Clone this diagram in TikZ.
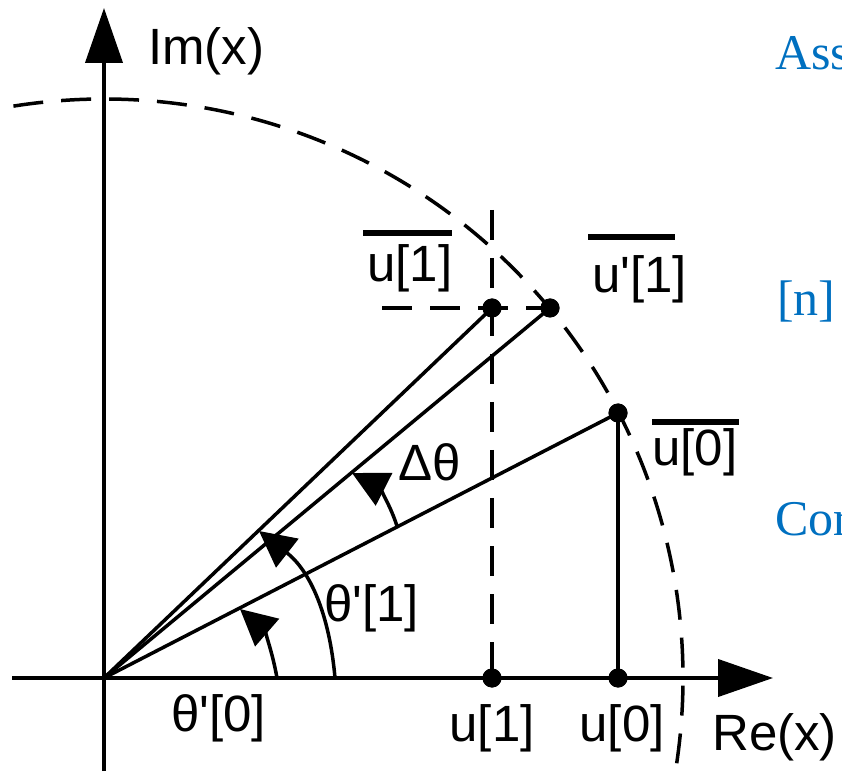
\documentclass[tikz,border=0pt]{standalone}
\usepackage{fontspec}
\setmainfont{Liberation Sans}[Ligatures=TeXOff]
\newfontfamily\bluefont{Liberation Serif}
\usetikzlibrary{arrows.meta}
\definecolor{officeblue}{RGB}{0,112,192}
\begin{document}
\begin{tikzpicture}[x=1pt,y=1pt,
  axis/.style={line width=4pt,-{Triangle[length=55pt,width=37pt]}},
  vec/.style={line width=3.5pt},
  dline/.style={line width=3.5pt,dash pattern=on 30pt off 18pt},
  angarc/.style={line width=3.5pt,-{Triangle[length=36pt,width=36pt]}},
  dot/.style={circle,fill=black,inner sep=0pt,minimum size=19pt},
  lbl/.style={inner sep=0pt,font=\fontsize{51}{60}\selectfont},
  bluelbl/.style={inner sep=0pt,anchor=base west,text=officeblue,font=\bluefont\fontsize{50}{60}\selectfont},
  bar/.style={line width=6pt}]
\useasboundingbox (0,0) rectangle (842,771);
\clip (0,0) rectangle (842,771);
% coordinates
\coordinate (O) at (104,93);
\coordinate (xs) at (12,93);
\coordinate (xe) at (773,93);
\coordinate (ys) at (104,0);
\coordinate (ye) at (104,763);
\coordinate (vtop) at (492,561);
\coordinate (hleft) at (382,463);
% dashed circle
\draw[dline] (O) ++(99:579) arc[start angle=99, end angle=-12, radius=579];
% axes
\draw[axis] (xs) -- (xe);
\draw[axis] (ys) -- (ye);
% points
\node[dot] (p1) at (492,463) {};
\node[dot] (p1p) at (550,463) {};
\node[dot] (p0) at (618,358) {};
\node[dot] (u1) at (492,93) {};
\node[dot] (u0) at (618,93) {};
% dashed helpers
\draw[dline] (vtop) -- (u1.center);
\draw[dline] (hleft) -- (p1p.center);
% vectors
\draw[vec] (O) -- (p1.center);
\draw[vec] (O) -- (p1p.center);
\draw[vec] (O) -- (p0.center);
\draw[vec] (p0.center) -- (u0.center);
% angle arcs
\coordinate (a0s) at (277,93);
\coordinate (a0e) at (240,162);
\coordinate (a1s) at (335,93);
\coordinate (a1e) at (259,240);
\coordinate (ads) at (397,245);
\coordinate (ade) at (352,298);
\draw[angarc] (a0s) to[out=100,in=-41] (a0e);
\draw[angarc] (a1s) to[out=95,in=-38] (a1e);
\draw[angarc] (ads) to[out=108,in=-27] (ade);
% redraw dots on top
\node[dot] at (p1) {};
\node[dot] at (p1p) {};
\node[dot] at (p0) {};
\node[dot] at (u1) {};
\node[dot] at (u0) {};
% labels
\node[lbl,anchor=base west] (imx) at (148,706) {Im(x)};
\node[lbl,anchor=base west] (rex) at (712,21) {Re(x)};
\node[lbl,anchor=base] (lu1) at (492,30) {u[1]};
\node[lbl,anchor=base] (lu0) at (622,30) {u[0]};
\node[lbl,anchor=base] (th0) at (218.5,40) {θ'[0]};
\node[lbl,anchor=base] (th1) at (371.5,150) {θ'[1]};
\node[lbl,anchor=base] (dth) at (430,290) {Δθ};
\node[lbl,anchor=base west] (t1) at (367,489.5) {u[1]};
\node[lbl,anchor=base west] (t1p) at (592,478) {u'[1]};
\node[lbl,anchor=base west] (t0) at (652,305) {u[0]};
% overline bars
\draw[bar] ([shift={(-4,48.5)}]t1.base west) -- ([shift={(85,48.5)}]t1.base west);
\draw[bar] ([shift={(-4,56)}]t1p.base west) -- ([shift={(83,56)}]t1p.base west);
\draw[bar] ([shift={(0,44)}]t0.base west) -- ([shift={(87,44)}]t0.base west);
% clipped blue text at right edge
\node[bluelbl] (b1) at (775,701) {Ass};
\node[bluelbl] (b2) at (777,455) {[n]};
\node[bluelbl] (b3) at (775,236) {Cor};
\end{tikzpicture}
\end{document}
